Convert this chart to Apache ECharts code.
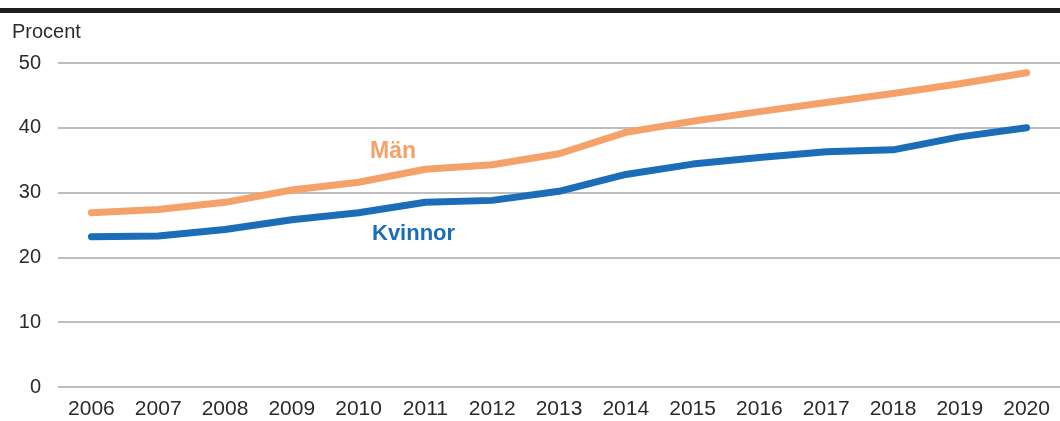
<!DOCTYPE html>
<html>
<head>
<meta charset="utf-8">
<script src="https://cdn.jsdelivr.net/npm/echarts@6/dist/echarts.min.js"></script>
<style>
  html, body { margin: 0; padding: 0; background: #fff; }
  #chart { width: 1060px; height: 421px; }
</style>
</head>
<body>
<div id="chart"></div>
<script>
// Andel (procent) per år, kvinnor och män
const years = ['2006','2007','2008','2009','2010','2011','2012','2013','2014','2015','2016','2017','2018','2019','2020'];
const man = [26.9, 27.4, 28.5, 30.4, 31.6, 33.6, 34.3, 36.0, 39.3, 41.0, 42.5, 43.9, 45.3, 46.8, 48.5];
const kvinnor = [23.2, 23.3, 24.3, 25.8, 26.9, 28.5, 28.8, 30.2, 32.8, 34.4, 35.4, 36.3, 36.6, 38.6, 40.0];
const yTicks = [0, 10, 20, 30, 40, 50];

const FONT = '"Liberation Sans", Arial, Helvetica, sans-serif';
const ORANGE = '#F4A26A';
const BLUE = '#1C6DB8';

const chart = echarts.init(document.getElementById('chart'), null, { renderer: 'canvas' });
chart.setOption({
  animation: false,
  backgroundColor: '#fff',
  grid: { left: 58, top: 63, width: 1004, height: 324, containLabel: false },
  xAxis: {
    type: 'category',
    data: years,
    boundaryGap: true,
    axisLine: { show: false },
    axisTick: { show: false },
    axisLabel: { color: '#2b2b2b', fontSize: 21, fontFamily: FONT, margin: 12 }
  },
  yAxis: {
    type: 'value',
    min: yTicks[0],
    max: yTicks[yTicks.length - 1],
    interval: 10,
    axisLine: { show: false },
    axisTick: { show: false },
    splitLine: { lineStyle: { color: '#a8a8a8', width: 1.5 } },
    axisLabel: { color: '#2b2b2b', fontSize: 20, fontFamily: FONT, margin: 17 }
  },
  series: [
    {
      name: 'Män', type: 'line', data: man, symbol: 'none',
      lineStyle: { color: ORANGE, width: 7, cap: 'round', join: 'round' }
    },
    {
      name: 'Kvinnor', type: 'line', data: kvinnor, symbol: 'none',
      lineStyle: { color: BLUE, width: 7, cap: 'round', join: 'round' }
    }
  ],
  graphic: [
    { type: 'rect', left: 0, top: 8, shape: { width: 1060, height: 5 }, style: { fill: '#1e1e1e' } },
    { type: 'text', left: 12, top: 22, style: { text: 'Procent', fill: '#2b2b2b', font: '20px ' + FONT } },
    { type: 'text', left: 370, top: 140, style: { text: 'Män', fill: ORANGE, font: 'bold 23px ' + FONT } },
    { type: 'text', left: 372, top: 223, style: { text: 'Kvinnor', fill: BLUE, font: 'bold 22px ' + FONT } }
  ]
});
</script>
</body>
</html>
